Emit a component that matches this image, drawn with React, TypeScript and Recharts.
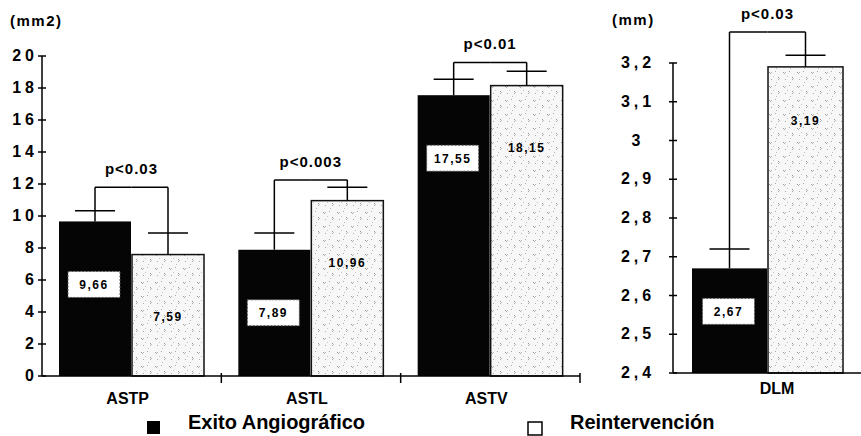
import React from 'react';
import { BarChart, Bar, XAxis, YAxis } from 'recharts';

// areas (mm2)
const areaCategories = ['ASTP', 'ASTL', 'ASTV'];
const areaExito = [9.66, 7.89, 17.55];
const areaReint = [7.59, 10.96, 18.15];
const areaExitoErr = [0.67, 1.05, 1.0];
const areaReintErr = [1.35, 0.84, 0.9];
const areaBracket = [11.8, 12.25, 19.6];
const areaPValues = ['p<0.03', 'p<0.003', 'p<0.01'];
const areaTicks = [0, 2, 4, 6, 8, 10, 12, 14, 16, 18, 20];

// diameter (mm)
const dlmCategories = ['DLM'];
const dlmExito = [2.67];
const dlmReint = [3.19];
const dlmExitoErr = [0.05];
const dlmReintErr = [0.03];
const dlmBracket = [3.28];
const dlmPValues = ['p<0.03'];
const dlmTicks = [2.4, 2.5, 2.6, 2.7, 2.8, 2.9, 3.0, 3.1, 3.2];

const FONT = '"Liberation Sans", Arial, Helvetica, sans-serif';

const areaData = areaCategories.map((name, i) => ({
  name,
  exito: areaExito[i],
  reint: areaReint[i],
  exitoErr: areaExitoErr[i],
  reintErr: areaReintErr[i],
  bracket: areaBracket[i],
  p: areaPValues[i],
}));

const dlmData = dlmCategories.map((name, i) => ({
  name,
  exito: dlmExito[i],
  reint: dlmReint[i],
  exitoErr: dlmExitoErr[i],
  reintErr: dlmReintErr[i],
  bracket: dlmBracket[i],
  p: dlmPValues[i],
}));

const fmt = (v: number) => String(v).replace('.', ',');

function makeShape(key: 'exito' | 'reint', min: number, drop: number) {
  return (props: any) => {
    const { x, y, width, height, payload } = props;
    const value = payload[key];
    const err = payload[key + 'Err'];
    const k = height / (value - min);
    const base = y + height;
    const yOf = (v: number) => base - (v - min) * k;
    const cx = x + width / 2;
    const errTop = yOf(value + err);
    const by = yOf(payload.bracket);
    const isExito = key === 'exito';
    const midX = isExito ? x + width + 0.5 : x - 0.5;
    const ly = y + drop;
    const label = value.toFixed(2).replace('.', ',');
    return (
      <g>
        <rect
          x={x}
          y={y}
          width={width}
          height={height}
          fill={isExito ? '#050505' : 'url(#speckle)'}
          stroke={isExito ? 'none' : '#111'}
          strokeWidth={1.5}
        />
        <line x1={cx} x2={cx} y1={y} y2={by} stroke="#000" strokeWidth={1.5} />
        <line x1={cx - 20} x2={cx + 20} y1={errTop} y2={errTop} stroke="#000" strokeWidth={1.5} />
        <line x1={cx} x2={midX} y1={by} y2={by} stroke="#000" strokeWidth={1.5} />
        {isExito && (
          <rect
            x={cx - 27}
            y={ly - 13}
            width={52}
            height={26}
            fill="#fff"
            stroke="#555"
            strokeWidth={1}
            strokeDasharray="2 1.5"
          />
        )}
        <text
          x={isExito ? cx - 1 : cx}
          y={ly + 4.5}
          textAnchor="middle"
          fontFamily={FONT}
          fontWeight="bold"
          fontSize={12}
          letterSpacing={1.5}
          fill="#000"
        >
          {label}
        </text>
        {!isExito && (
          <text
            x={midX}
            y={by - 13}
            textAnchor="middle"
            fontFamily={FONT}
            fontWeight="bold"
            fontSize={15}
            letterSpacing={1}
            fill="#000"
          >
            {payload.p}
          </text>
        )}
      </g>
    );
  };
}

function makeXTick(band: number, dx: number, dy: number, boundaryTicks: boolean) {
  return (props: any) => {
    const { x, y, payload } = props;
    return (
      <g>
        {boundaryTicks && (
          <line x1={x + band / 2} x2={x + band / 2} y1={y - 3} y2={y + 7} stroke="#000" strokeWidth={1.5} />
        )}
        <text
          x={x + dx}
          y={y + dy}
          textAnchor="middle"
          fontFamily={FONT}
          fontWeight="bold"
          fontSize={16}
          fill="#000"
        >
          {payload.value}
        </text>
      </g>
    );
  };
}

function makeYTick(labelDx: number, anchor: 'end' | 'middle') {
  return (props: any) => {
    const { x, y, payload } = props;
    return (
      <g>
        <line x1={x - 4} x2={x + 4} y1={y} y2={y} stroke="#000" strokeWidth={1.5} />
        <text
          x={x + labelDx}
          y={y + 5}
          textAnchor={anchor}
          fontFamily={FONT}
          fontWeight="bold"
          fontSize={16}
          letterSpacing={4}
          fill="#000"
        >
          {fmt(payload.value)}
        </text>
      </g>
    );
  };
}

const textStyle = { fontFamily: FONT, fontWeight: 'bold' as const, fill: '#000' };

export default function App() {
  return (
    <div style={{ position: 'absolute', left: 0, top: 0, width: 861, height: 436, background: '#fff' }}>
      <svg width={0} height={0} style={{ position: 'absolute' }}>
        <defs>
          <pattern id="speckle" width="14" height="14" patternUnits="userSpaceOnUse">
            <rect width="14" height="14" fill="#f7f7f7" />
            <rect x="1" y="2" width="1" height="1" fill="#999" />
            <rect x="2" y="3" width="1" height="1" fill="#aaa" />
            <rect x="3" y="2" width="1" height="1" fill="#b4b4b4" />
            <rect x="7" y="1" width="1" height="1" fill="#aaa" />
            <rect x="10" y="7" width="1" height="1" fill="#999" />
            <rect x="11" y="8" width="1" height="1" fill="#bbb" />
            <rect x="10" y="9" width="1" height="1" fill="#aaa" />
            <rect x="3" y="9" width="1" height="1" fill="#aaa" />
            <rect x="8" y="12" width="1" height="1" fill="#bbb" />
            <rect x="5" y="6" width="1" height="1" fill="#c4c4c4" />
          </pattern>
        </defs>
      </svg>

      <div style={{ position: 'absolute', left: 0, top: 0 }}>
        <BarChart
          width={590}
          height={410}
          data={areaData}
          margin={{ top: 56, right: 10, bottom: 0, left: 0 }}
          barCategoryGap={17}
          barGap={1}
        >
          <XAxis
            dataKey="name"
            height={34}
            axisLine={{ stroke: '#000', strokeWidth: 1.5 }}
            tickLine={false}
            tickSize={0}
            tickMargin={0}
            interval={0}
            tick={makeXTick(538 / 3, -4, 28, true)}
          />
          <YAxis
            width={42}
            domain={[0, 20]}
            ticks={areaTicks}
            interval={0}
            axisLine={{ stroke: '#000', strokeWidth: 1.5 }}
            tickLine={false}
            tickSize={0}
            tickMargin={0}
            tick={makeYTick(-4, 'end')}
          />
          <Bar dataKey="exito" isAnimationActive={false} shape={makeShape('exito', 0, 63)} />
          <Bar dataKey="reint" isAnimationActive={false} shape={makeShape('reint', 0, 62)} />
        </BarChart>
      </div>

      <div style={{ position: 'absolute', left: 600, top: 0 }}>
        <BarChart
          width={261}
          height={410}
          data={dlmData}
          margin={{ top: 63, right: 0, bottom: 0, left: 0 }}
          barCategoryGap={19}
          barGap={1}
        >
          <XAxis
            dataKey="name"
            height={37}
            axisLine={{ stroke: '#000', strokeWidth: 1.5 }}
            tickLine={false}
            tickSize={0}
            tickMargin={0}
            tick={makeXTick(188, 10, 21, false)}
          />
          <YAxis
            width={73}
            domain={[2.4, 3.2]}
            ticks={dlmTicks}
            interval={0}
            axisLine={{ stroke: '#000', strokeWidth: 1.5 }}
            tickLine={false}
            tickSize={0}
            tickMargin={0}
            tick={makeYTick(-35, 'middle')}
          />
          <Bar dataKey="exito" isAnimationActive={false} shape={makeShape('exito', 2.4, 43)} />
          <Bar dataKey="reint" isAnimationActive={false} shape={makeShape('reint', 2.4, 54)} />
        </BarChart>
      </div>

      <svg width={861} height={436} style={{ position: 'absolute', left: 0, top: 0, pointerEvents: 'none' }}>
        <text x={10} y={26} fontSize={15} letterSpacing={1.5} {...textStyle}>(mm2)</text>
        <text x={612} y={25} fontSize={15} letterSpacing={1.5} {...textStyle}>(mm)</text>
        <rect x={147} y={421} width={13} height={13} fill="#000" />
        <text x={188} y={429} fontSize={20} {...textStyle}>Exito Angiográfico</text>
        <rect x={528} y={422} width={14} height={13} fill="#fff" stroke="#000" strokeWidth={1.5} />
        <text x={570} y={429} fontSize={20} {...textStyle}>Reintervención</text>
      </svg>
    </div>
  );
}
